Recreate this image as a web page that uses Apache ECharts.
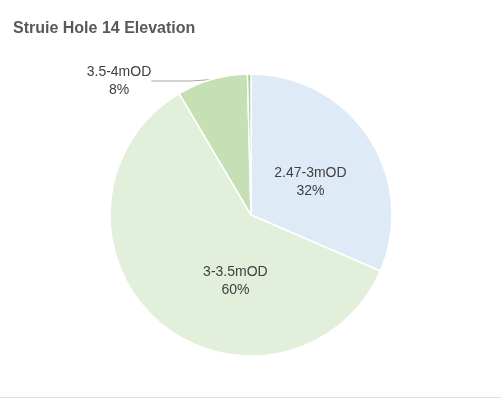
<!DOCTYPE html>
<html>
<head>
<meta charset="utf-8">
<script src="https://cdn.jsdelivr.net/npm/echarts@6/dist/echarts.min.js"></script>
<style>
  html, body { margin: 0; padding: 0; background: #fff; }
  #chart { width: 501px; height: 397px; border-bottom: 1px solid #e0e0e0; }
</style>
</head>
<body>
<div id="chart"></div>
<script>
// slices, clockwise from 12 o'clock
const categories = ['2.47-3mOD', '3-3.5mOD', '3.5-4mOD', '4-4.5mOD']
const values = [31.5, 60, 8.1, 0.4]
const colors = ['#DEEBF7', '#E2EFDA', '#C5E0B4', '#A9D18E']
const showLabel = [true, true, true, false]

const chart = echarts.init(document.getElementById('chart'))

const data = categories.map((name, i) => {
  const item = {
    name,
    value: values[i],
    itemStyle: { color: colors[i] },
    label: { show: showLabel[i] },
    labelLine: { show: false }
  }
  if (i === 2) {
    item.label = { show: true, position: 'outside', align: 'center' }
    item.labelLine = { show: true, length: 4, length2: 40, lineStyle: { color: '#a6a6a6', width: 1 } }
  }
  return item
})

chart.setOption({
  animation: false,
  title: {
    text: 'Struie Hole 14 Elevation',
    left: 8,
    top: 16,
    textStyle: { fontFamily: 'Liberation Sans', fontSize: 16, fontWeight: 'bold', color: '#595959' }
  },
  series: [{
    type: 'pie',
    center: [251, 215],
    radius: [0, 141],
    startAngle: 90,
    clockwise: true,
    itemStyle: { borderColor: '#fff', borderWidth: 1.5 },
    label: {
      position: 'inside',
      fontFamily: 'Liberation Sans',
      fontSize: 14,
      lineHeight: 18,
      color: '#404040',
      formatter: p => p.name + '\n' + Math.round(p.percent) + '%'
    },
    labelLayout: p => {
      if (p.dataIndex === 0) return { dx: -2, dy: 7 }
      if (p.dataIndex === 1) return { dx: 33, dy: 11 }
      if (p.dataIndex === 2) return { x: 119, y: 81, align: 'center' }
      return {}
    },
    data
  }]
})
</script>
</body>
</html>
